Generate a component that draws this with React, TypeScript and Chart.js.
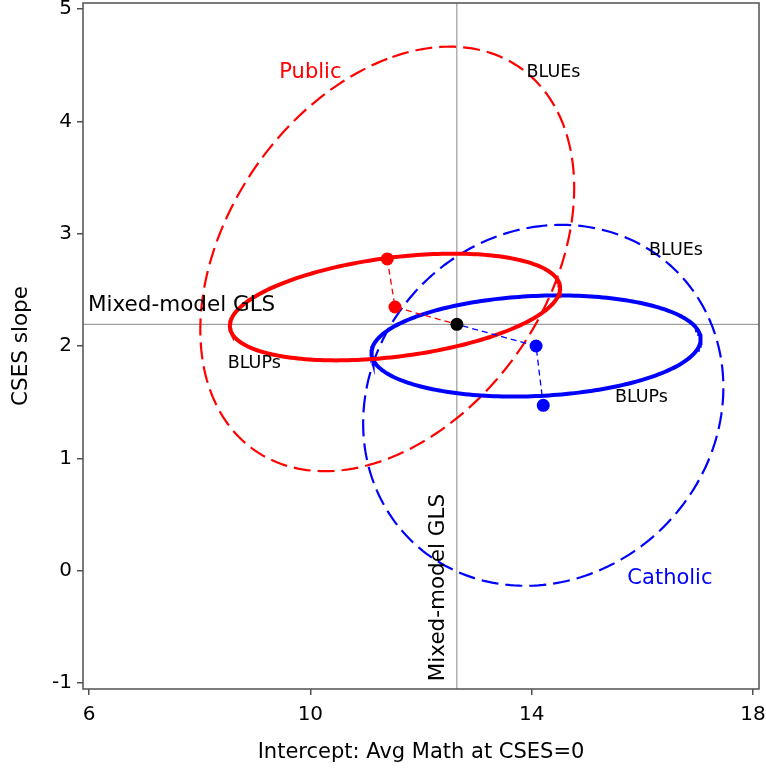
import { useEffect, useRef } from "react";
import { Chart, registerables } from "chart.js";

Chart.register(...registerables);

const FONT = "'DejaVu Sans', sans-serif";

// school sectors
const groups = ["Public", "Catholic"];
const groupColors = ["#ff0000", "#0000ff"];

// per-sector OLS estimates (BLUEs): intercept, CSES slope
const blueIntercept = [11.39, 14.21];
const blueSlope = [2.775, 1.472];

// per-sector shrunken estimates (BLUPs)
const blupIntercept = [11.53, 14.08];
const blupSlope = [2.347, 2.0];

// mixed-model GLS fixed effects
const glsIntercept = 12.648;
const glsSlope = 2.193;

// contour covariance of each ellipse: var(intercept), var(slope), cov
const blueVarInt = [11.42, 10.6];
const blueVarSlope = [3.57, 2.58];
const blueCov = [2.136, 0.52];
const blupVarInt = [8.91, 8.85];
const blupVarSlope = [0.2256, 0.2025];
const blupCov = [0.501, 0.18];

// axes
const xTicks = [6, 10, 14, 18];
const yTicks = [-1, 0, 1, 2, 3, 4, 5];
const xRange = [5.89, 18.11];
const yRange = [-1.053, 5.053];

// text placed in data coordinates (y is the text baseline)
const notes = [
  { text: "Public", x: 10.0, y: 4.381, color: "#ff0000", size: 21, align: "center", rot: 0 },
  { text: "BLUEs", x: 14.396, y: 4.397, color: "#000", size: 17.5, align: "center", rot: 0 },
  { text: "BLUEs", x: 16.61, y: 2.81, color: "#000", size: 17.5, align: "center", rot: 0 },
  { text: "Mixed-model GLS", x: 5.98, y: 2.314, color: "#000", size: 21.5, align: "left", rot: 0 },
  { text: "BLUPs", x: 8.986, y: 1.801, color: "#000", size: 17.5, align: "center", rot: 0 },
  { text: "BLUPs", x: 15.985, y: 1.504, color: "#000", size: 17.5, align: "center", rot: 0 },
  { text: "Catholic", x: 16.5, y: -0.119, color: "#0000ff", size: 21, align: "center", rot: 0 },
  { text: "Mixed-model GLS", x: 12.418, y: -0.15, color: "#000", size: 21.5, align: "center", rot: -Math.PI / 2 },
];

type Pt = { x: number; y: number };

function ellipse(cx: number, cy: number, vx: number, vy: number, cxy: number, n = 240): Pt[] {
  const l11 = Math.sqrt(vx);
  const l21 = cxy / l11;
  const l22 = Math.sqrt(vy - l21 * l21);
  const pts: Pt[] = [];
  for (let i = 0; i <= n; i++) {
    const t = (2 * Math.PI * i) / n + Math.PI / 2;
    const c = Math.cos(t);
    const s = Math.sin(t);
    pts.push({ x: cx + l11 * c, y: cy + l21 * c + l22 * s });
  }
  return pts;
}

const framePlugin = {
  id: "frame",
  afterDatasetsDraw(chart: any) {
    const { ctx, chartArea: a } = chart;
    ctx.save();
    ctx.strokeStyle = "#505050";
    ctx.lineWidth = 1.5;
    ctx.strokeRect(a.left, a.top, a.right - a.left, a.bottom - a.top);
    ctx.restore();
  },
};

const notesPlugin = {
  id: "notes",
  afterDatasetsDraw(chart: any) {
    const { ctx } = chart;
    const xs = chart.scales.x;
    const ys = chart.scales.y;
    ctx.save();
    for (const n of notes) {
      const px = xs.getPixelForValue(n.x);
      const py = ys.getPixelForValue(n.y);
      ctx.save();
      ctx.translate(px, py);
      ctx.rotate(n.rot);
      ctx.font = `${n.size}px ${FONT}`;
      ctx.fillStyle = n.color;
      ctx.textAlign = n.align;
      ctx.textBaseline = "alphabetic";
      ctx.fillText(n.text, 0, 0);
      ctx.restore();
    }
    ctx.restore();
  },
};

export default function App() {
  const ref = useRef<HTMLCanvasElement | null>(null);

  useEffect(() => {
    if (!ref.current) return;

    const datasets: any[] = [];

    // GLS point
    datasets.push({
      data: [{ x: glsIntercept, y: glsSlope }],
      backgroundColor: "#000",
      borderWidth: 0,
      pointRadius: 6.5,
      showLine: false,
    });

    groups.forEach((g, i) => {
      datasets.push({
        label: g,
        data: [
          { x: blueIntercept[i], y: blueSlope[i] },
          { x: blupIntercept[i], y: blupSlope[i] },
        ],
        backgroundColor: groupColors[i],
        borderWidth: 0,
        pointRadius: 6.5,
        showLine: false,
      });
    });

    // shrinkage paths BLUE -> BLUP -> GLS
    groups.forEach((_, i) => {
      datasets.push({
        data: [
          { x: blueIntercept[i], y: blueSlope[i] },
          { x: blupIntercept[i], y: blupSlope[i] },
          { x: glsIntercept, y: glsSlope },
        ],
        borderColor: groupColors[i],
        borderWidth: 1.3,
        borderDash: [6, 4],
        pointRadius: 0,
        showLine: true,
      });
    });

    // BLUP ellipses (solid)
    groups.forEach((_, i) => {
      datasets.push({
        data: ellipse(blupIntercept[i], blupSlope[i], blupVarInt[i], blupVarSlope[i], blupCov[i]),
        borderColor: groupColors[i],
        borderWidth: 4,
        pointRadius: 0,
        showLine: true,
      });
    });

    // BLUE ellipses (dashed)
    groups.forEach((_, i) => {
      datasets.push({
        data: ellipse(blueIntercept[i], blueSlope[i], blueVarInt[i], blueVarSlope[i], blueCov[i]),
        borderColor: groupColors[i],
        borderWidth: 2.2,
        borderDash: [17, 7],
        pointRadius: 0,
        showLine: true,
      });
    });

    // reference lines through the GLS estimate
    datasets.push({
      data: [
        { x: glsIntercept, y: yRange[0] },
        { x: glsIntercept, y: yRange[1] },
      ],
      borderColor: "#888",
      borderWidth: 1,
      pointRadius: 0,
      showLine: true,
    });
    datasets.push({
      data: [
        { x: xRange[0], y: glsSlope },
        { x: xRange[1], y: glsSlope },
      ],
      borderColor: "#888",
      borderWidth: 1,
      pointRadius: 0,
      showLine: true,
    });

    const chart = new Chart(ref.current, {
      type: "scatter",
      data: { datasets },
      options: {
        animation: false,
        responsive: false,
        events: [],
        layout: { autoPadding: false, padding: { left: 0, top: 3, right: 7, bottom: 0 } },
        plugins: { legend: { display: false }, tooltip: { enabled: false } },
        scales: {
          x: {
            type: "linear",
            min: xRange[0],
            max: xRange[1],
            afterBuildTicks: (s: any) => {
              s.ticks = xTicks.map((v) => ({ value: v }));
            },
            afterFit: (s: any) => {
              s.height = 83;
              s.paddingLeft = 0;
              s.paddingRight = 0;
            },
            grid: { drawOnChartArea: false, drawTicks: true, tickLength: 6, color: "#505050", lineWidth: 1.5 },
            border: { display: false },
            ticks: {
              color: "#000",
              font: { family: FONT, size: 20 },
              padding: 8,
              maxRotation: 0,
              autoSkip: false,
              callback: (v: any) => String(v),
            },
            title: {
              display: true,
              text: "Intercept: Avg Math at CSES=0",
              color: "#000",
              font: { family: FONT, size: 21 },
              padding: { top: 0, bottom: 7 },
            },
          },
          y: {
            type: "linear",
            min: yRange[0],
            max: yRange[1],
            afterBuildTicks: (s: any) => {
              s.ticks = yTicks.map((v) => ({ value: v }));
            },
            afterFit: (s: any) => {
              s.width = 83;
              s.paddingTop = 0;
              s.paddingBottom = 0;
            },
            grid: { drawOnChartArea: false, drawTicks: true, tickLength: 6, color: "#505050", lineWidth: 1.5 },
            border: { display: false },
            ticks: {
              color: "#000",
              font: { family: FONT, size: 20 },
              padding: 5,
              autoSkip: false,
              callback: (v: any) => String(v),
            },
            title: {
              display: true,
              text: "CSES slope",
              color: "#000",
              font: { family: FONT, size: 21.5 },
              padding: { top: 9, bottom: 0 },
            },
          },
        },
      },
      plugins: [framePlugin, notesPlugin],
    });

    return () => chart.destroy();
  }, []);

  return (
    <div style={{ position: "fixed", left: 0, top: 0, width: 766, height: 772, background: "#fff" }}>
      <canvas ref={ref} width={766} height={772} style={{ display: "block" }} />
    </div>
  );
}
